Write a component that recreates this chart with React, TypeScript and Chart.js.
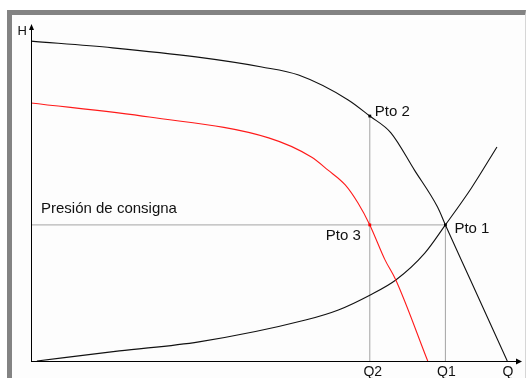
import React, { useEffect, useRef } from "react";
import { Chart, registerables } from "chart.js";

Chart.register(...registerables);

// Flow (Q) and head (H) in relative units (0–100 on each axis)
const PUMP_Q = [0, 16.6, 33.6, 47.0, 54.5, 64.6, 69.0, 73.3, 78.1, 82.8, 84.4, 89.5, 97.0];
const PUMP_H = [95.2, 93.2, 90.5, 87.5, 85.1, 77.7, 72.9, 67.9, 56.8, 45.8, 40.5, 24.1, 0];

const REDUCED_Q = [0, 24.1, 48.4, 57.1, 60.5, 64.0, 66.6, 69.0, 72.1, 74.3, 80.8];
const REDUCED_H = [76.8, 72.6, 66.4, 60.7, 56.8, 52.4, 47.0, 40.5, 30.1, 24.1, 0];

const SYSTEM_Q = [1.2, 18.0, 34.2, 55.9, 62.6, 69.0, 74.3, 80.2, 84.4, 89.7, 94.9];
const SYSTEM_H = [0, 3.0, 5.7, 12.2, 15.2, 19.6, 24.1, 32.1, 40.5, 51.5, 63.7];

const Q1 = 84.4;
const Q2 = 69.0;
const H_SET = 40.5;
const H_PTO2 = 72.9;

const SET_LABEL = "Presión de consigna";
const POINT_LABELS = ["Pto 1", "Pto 2", "Pto 3"];
const X_TICK_LABELS = ["Q2", "Q1"];
const AXIS_LABELS = ["H", "Q"];

const zip = (xs: number[], ys: number[]) => xs.map((x, i) => ({ x, y: ys[i] }));

const FONT = "Liberation Sans, Arial, sans-serif";

const overlayPlugin = {
  id: "overlay",
  afterDraw(chart: any) {
    const { ctx, chartArea, scales } = chart;
    const xs = scales.x;
    const ys = scales.y;
    const left = chartArea.left;
    const right = chartArea.right;
    const top = chartArea.top;
    const bottom = chartArea.bottom;
    ctx.save();
    // axes
    ctx.strokeStyle = "#000";
    ctx.lineWidth = 1;
    ctx.beginPath();
    ctx.moveTo(left + 0.5, bottom + 0.5);
    ctx.lineTo(left + 0.5, top + 2);
    ctx.moveTo(left, bottom + 0.5);
    ctx.lineTo(right - 2, bottom + 0.5);
    ctx.stroke();
    ctx.fillStyle = "#000";
    // y arrow
    ctx.beginPath();
    ctx.moveTo(left + 0.5, top - 1);
    ctx.lineTo(left - 2, top + 5);
    ctx.lineTo(left + 3, top + 5);
    ctx.closePath();
    ctx.fill();
    // x arrow
    ctx.beginPath();
    ctx.moveTo(right, bottom + 0.5);
    ctx.lineTo(right - 6, bottom - 2.5);
    ctx.lineTo(right - 6, bottom + 3.5);
    ctx.closePath();
    ctx.fill();

    ctx.fillStyle = "#111";
    ctx.textBaseline = "alphabetic";
    // axis labels
    ctx.font = `13px ${FONT}`;
    ctx.textAlign = "right";
    ctx.fillText(AXIS_LABELS[0], left - 4, top + 10);
    ctx.font = `14px ${FONT}`;
    ctx.textAlign = "center";
    ctx.fillText(AXIS_LABELS[1], right - 14, bottom + 15);
    ctx.fillText(X_TICK_LABELS[0], xs.getPixelForValue(Q2) + 3, bottom + 15);
    ctx.fillText(X_TICK_LABELS[1], xs.getPixelForValue(Q1) + 1, bottom + 15);

    // annotations
    ctx.font = `15px ${FONT}`;
    ctx.textAlign = "left";
    ctx.fillText(SET_LABEL, left + 10, ys.getPixelForValue(H_SET) - 12);
    ctx.fillText(POINT_LABELS[0], xs.getPixelForValue(Q1) + 9, ys.getPixelForValue(H_SET) + 8);
    ctx.fillText(POINT_LABELS[1], xs.getPixelForValue(Q2) + 5, ys.getPixelForValue(H_PTO2));
    ctx.textAlign = "right";
    ctx.fillText(POINT_LABELS[2], xs.getPixelForValue(Q2) - 9, ys.getPixelForValue(H_SET) + 15);
    ctx.restore();
  },
};

export default function App() {
  const ref = useRef<HTMLCanvasElement>(null);
  useEffect(() => {
    document.body.style.margin = "0";
    const guide = (data: { x: number; y: number }[]) => ({
      data,
      showLine: true,
      borderColor: "#a4a4a4",
      borderWidth: 1,
      pointRadius: 0,
      order: 5,
    });
    const chart = new Chart(ref.current as HTMLCanvasElement, {
      type: "scatter",
      data: {
        datasets: [
          guide([{ x: 0, y: H_SET }, { x: Q1, y: H_SET }]),
          guide([{ x: Q1, y: 0 }, { x: Q1, y: H_SET }]),
          guide([{ x: Q2, y: 0 }, { x: Q2, y: H_PTO2 }]),
          {
            data: zip(PUMP_Q, PUMP_H),
            showLine: true,
            borderColor: "#111",
            borderWidth: 1.1,
            pointRadius: 0,
            cubicInterpolationMode: "monotone",
            order: 3,
          },
          {
            data: zip(REDUCED_Q, REDUCED_H),
            showLine: true,
            borderColor: "#ff1a1a",
            borderWidth: 1.1,
            pointRadius: 0,
            cubicInterpolationMode: "monotone",
            order: 3,
          },
          {
            data: zip(SYSTEM_Q, SYSTEM_H),
            showLine: true,
            borderColor: "#111",
            borderWidth: 1.1,
            pointRadius: 0,
            cubicInterpolationMode: "monotone",
            order: 3,
          },
          {
            data: [{ x: Q1, y: H_SET }, { x: Q2, y: H_PTO2 }],
            showLine: false,
            pointStyle: "rect",
            pointRadius: 2,
            backgroundColor: "#000",
            borderColor: "#000",
            borderWidth: 0,
            order: 1,
          },
          {
            data: [{ x: Q2, y: H_SET }],
            showLine: false,
            pointStyle: "rect",
            pointRadius: 2,
            backgroundColor: "#ff0000",
            borderColor: "#ff0000",
            borderWidth: 0,
            order: 1,
          },
        ],
      } as any,
      options: {
        animation: false,
        responsive: false,
        events: [],
        layout: { padding: { left: 31, top: 25, right: 1, bottom: 17 } },
        plugins: { legend: { display: false }, tooltip: { enabled: false } },
        scales: {
          x: { type: "linear", min: 0, max: 100, display: false },
          y: { type: "linear", min: 0, max: 100, display: false },
        },
      },
      plugins: [overlayPlugin],
    });
    return () => chart.destroy();
  }, []);

  return (
    <div style={{ position: "fixed", left: 0, top: 0, width: 526, height: 378, background: "#fff", overflow: "hidden" }}>
      <div
        style={{
          position: "absolute",
          left: 7,
          top: 10,
          width: 513,
          height: 368,
          borderTop: "5px solid #838383",
          borderLeft: "5px solid #838383",
          borderRight: "1px solid #d6d6d6",
          background: "#fdfdfd",
        }}
      />
      <canvas ref={ref} width={526} height={378} style={{ position: "absolute", left: 0, top: 0 }} />
    </div>
  );
}
